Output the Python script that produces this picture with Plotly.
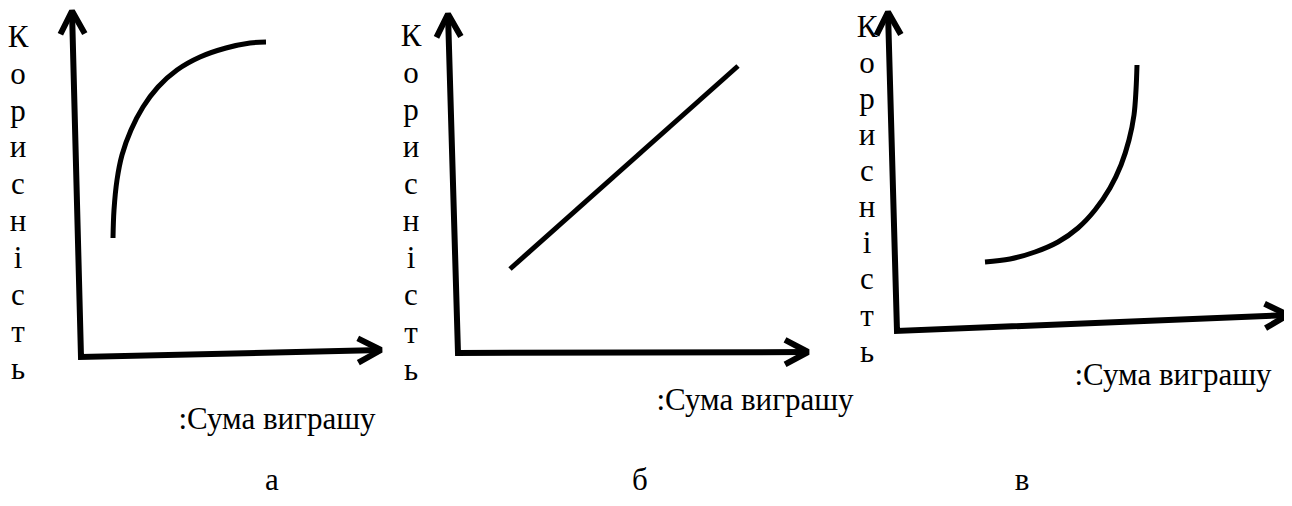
import math
import plotly.graph_objects as go

# window is 1292x506; page body has an 8px default margin, so the figure is
# sized to fit inside it and the drawing coordinates are offset accordingly
WIN_W, WIN_H = 1292, 506
PAD = 8
W, H = WIN_W - 2 * PAD, WIN_H - 2 * PAD

# ---- data (pixel-like drawing coordinates) ----
# panel "а": concave utility curve
curve_a_x = [113, 114, 117, 122, 131, 143, 158, 177, 200, 226, 250, 266]
curve_a_y = [238, 210, 180, 155, 130, 107, 87, 70, 57, 48, 43, 42]
# panel "б": straight utility line
line_b_x = [510, 738]
line_b_y = [269, 66]
# panel "в": convex utility curve
curve_c_x = [985, 1010, 1035, 1058, 1078, 1095, 1110, 1121, 1129, 1134, 1136, 1137]
curve_c_y = [262, 259, 252, 242, 228, 210, 188, 165, 140, 115, 90, 65]

# axes: (top tip, origin, right tip) per panel
axes_top = [(72, 11), (448, 14), (888, 12)]
axes_origin = [(81, 357), (458, 353), (897, 331)]
axes_right = [(381, 350), (808, 352), (1288, 315)]

ylabel_letters = list("Корисність")
ylabel_x = [18, 411, 867]
ylabel_y0 = [39, 38, 29]
ylabel_step = [36.9, 37.1, 36.1]

xlabel_text = ":Сума виграшу"
xlabel_pos = [(277, 421), (755, 402), (1173, 377)]

panel_labels = ["а", "б", "в"]
panel_label_x = [272, 640, 1022]
panel_label_y = 482

FONT = "Liberation Serif"
FS = 31
LW_AX = 6
LW_CURVE = 5

fig = go.Figure()


def add_line(xs, ys, width, shape="linear"):
    fig.add_trace(go.Scatter(x=xs, y=ys, mode="lines",
                             line=dict(color="black", width=width, shape=shape,
                                       smoothing=1.0 if shape == "spline" else None),
                             hoverinfo="skip", showlegend=False))


def chevron(tip, frm, length=26, ang=28):
    dx, dy = tip[0] - frm[0], tip[1] - frm[1]
    L = math.hypot(dx, dy)
    ux, uy = dx / L, dy / L
    pts = []
    for s in (1, -1):
        a = math.radians(ang) * s
        rx = -(ux * math.cos(a) - uy * math.sin(a))
        ry = -(ux * math.sin(a) + uy * math.cos(a))
        pts.append((tip[0] + rx * length, tip[1] + ry * length))
    return [pts[0][0], tip[0], pts[1][0]], [pts[0][1], tip[1], pts[1][1]]


for top, org, right in zip(axes_top, axes_origin, axes_right):
    add_line([top[0], org[0], right[0]], [top[1], org[1], right[1]], LW_AX)
    cx, cy = chevron(top, org)
    add_line(cx, cy, LW_AX)
    cx, cy = chevron(right, org)
    add_line(cx, cy, LW_AX)

add_line(curve_a_x, curve_a_y, LW_CURVE, "spline")
add_line(line_b_x, line_b_y, LW_CURVE)
add_line(curve_c_x, curve_c_y, LW_CURVE, "spline")

# vertical "Корисність" labels
for x, y0, st in zip(ylabel_x, ylabel_y0, ylabel_step):
    fig.add_trace(go.Scatter(
        x=[x] * len(ylabel_letters),
        y=[y0 + i * st for i in range(len(ylabel_letters))],
        mode="text", text=ylabel_letters, textposition="middle center",
        textfont=dict(family=FONT, size=FS, color="black"),
        hoverinfo="skip", showlegend=False, cliponaxis=False))

# horizontal labels
fig.add_trace(go.Scatter(
    x=[p[0] for p in xlabel_pos], y=[p[1] for p in xlabel_pos],
    mode="text", text=[xlabel_text] * 3, textposition="middle center",
    textfont=dict(family=FONT, size=FS, color="black"),
    hoverinfo="skip", showlegend=False, cliponaxis=False))

# panel letters
fig.add_trace(go.Scatter(
    x=panel_label_x, y=[panel_label_y] * 3,
    mode="text", text=panel_labels, textposition="middle center",
    textfont=dict(family=FONT, size=FS, color="black"),
    hoverinfo="skip", showlegend=False, cliponaxis=False))

fig.update_layout(
    width=W, height=H,
    margin=dict(l=0, r=0, t=0, b=0),
    paper_bgcolor="white", plot_bgcolor="white",
    xaxis=dict(range=[PAD, PAD + W], visible=False, fixedrange=True),
    yaxis=dict(range=[PAD + H, PAD], visible=False, fixedrange=True),
)

fig.write_html("out.html")
